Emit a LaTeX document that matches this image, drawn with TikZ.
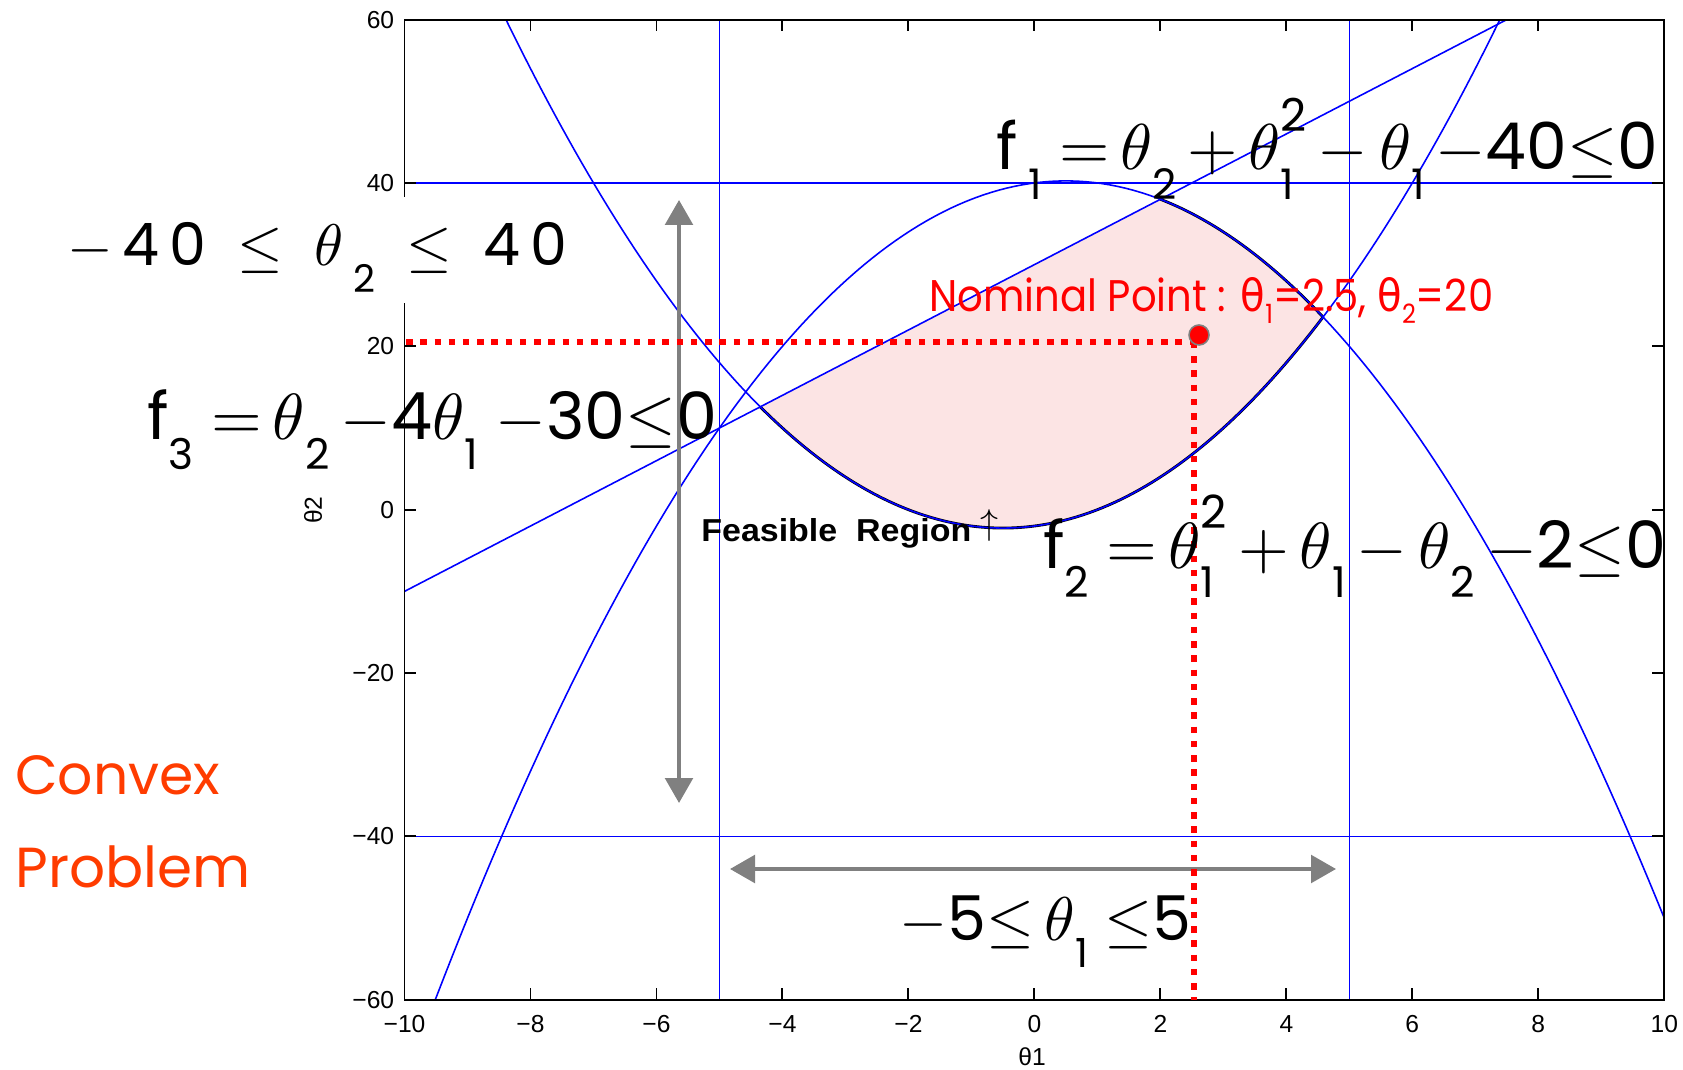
\documentclass[tikz,border=0pt]{standalone}
\usepackage{fontspec}
\usepackage{graphicx}
\usetikzlibrary{arrows.meta}
\setmainfont{Poppins}
\newfontfamily\axfont{Liberation Sans}
\newfontfamily\grk{DejaVu Sans}
\definecolor{feas}{RGB}{252,228,228}
\definecolor{cvxred}{RGB}{255,60,0}
\definecolor{dimgray}{RGB}{128,128,128}
\newcommand\lo[1]{\raisebox{-0.45em}{\scalebox{0.65}{#1}}}
\newcommand\hi[1]{\raisebox{0.6em}{\scalebox{0.7}{#1}}}
\newcommand\gsub[1]{\raisebox{-0.25em}{\scalebox{0.6}{#1}}}
\begin{document}
\begin{tikzpicture}[x=0.02cm,y=-0.02cm,
  curve/.style={blue, line width=0.9pt},
  frame/.style={black, line width=1.1pt},
  tick/.style={black, line width=1.1pt},
  ticklab/.style={font=\axfont\fontsize{14}{14}\selectfont, inner sep=0pt},
  dimarrow/.style={dimgray, line width=2.3pt, {Triangle[length=0.5cm,width=0.55cm]}-{Triangle[length=0.5cm,width=0.55cm]}},
  nomline/.style={red, line width=3.9pt, dash pattern=on 0.13cm off 0.155cm},
  eq/.style={inner sep=0pt, anchor=base west},
]
\useasboundingbox (0,0) rectangle (1683,1070);
\fill[white] (0,0) rectangle (1683,1070);

\begin{scope}[shift={(20.692cm,-10.196cm)}, x=1.26cm, y=0.1634cm]
  \fill[feas] plot[domain=-4.35235:4.58258, samples=90] (\x,{\x*\x+\x-2})
     -- plot[domain=4.58258:2, samples=40] (\x,{-\x*\x+\x+40}) -- cycle;
  \draw[black, line width=1.6pt] plot[domain=-4.35235:4.58258, samples=90] (\x,{\x*\x+\x-2});
  \draw[black, line width=1.6pt] plot[domain=4.58258:2, samples=40] (\x,{-\x*\x+\x+40});
  \begin{scope}
    \clip (-10,-60) rectangle (10,60);
    \draw[curve] plot[domain=-10:10, samples=160] (\x,{-\x*\x+\x+40});
    \draw[curve] plot[domain=-9:8, samples=160] (\x,{\x*\x+\x-2});
    \draw[curve] (-10,-10) -- (7.5,60);
    \draw[curve] (-5,-60) -- (-5,60);
    \draw[curve] (5,-60) -- (5,60);
    \draw[curve] (-10,40) -- (10,40);
    \draw[curve] (-10,-40) -- (10,-40);
  \end{scope}
  \draw[frame] (-10,-60) rectangle (10,60);
  \foreach \t in {-8,-6,...,8} {
    \draw[tick] (\t,-60) -- ++(0,1.45);
    \draw[tick] (\t,60) -- ++(0,-1.45);
  }
  \foreach \s in {-40,-20,...,40} {
    \draw[tick] (-10,\s) -- ++(0.19,0);
    \draw[tick] (10,\s) -- ++(-0.19,0);
  }
  \foreach \v/\l in {-10/{−10},-8/{−8},-6/{−6},-4/{−4},-2/{−2},0/0,2/2,4/4,6/6,8/8,10/10}
    \node[ticklab, anchor=north] (xl\v) at ([yshift=-0.3cm]\v,-60) {\l};
  \foreach \v/\l in {-60/{−60},-40/{−40},-20/{−20},0/0,20/20,40/40,60/60}
    \node[ticklab, anchor=east] (yl\v) at ([xshift=-0.2cm]-10,\v) {\l};
\end{scope}

\node[ticklab] (xlab) at (1032,1057) {θ1};
\node[ticklab, rotate=90] (ylab) at (313,510) {θ2};

% white patch behind theta2 range
\fill[white] (60,197) rectangle (580,303);
\node[eq] (rng2) at (67,266) {\resizebox{10cm}{!}{$-$\,4\,0\ \ $\le$\ \ $\theta$\,\lo{2}\ \ $\le$\ \ 4\,0}};

% gray range arrows
\coordinate (vtop) at (679,200);
\coordinate (vbot) at (679,803);
\draw[dimarrow] (vtop) -- (vbot);
\coordinate (hl) at (730,869);
\coordinate (hr) at (1336,869);
\draw[dimarrow] (hl) -- (hr);

% nominal point lines
\coordinate (nom) at (1194,342);
\coordinate (nomx) at (1194,1000);
\coordinate (nomy) at (406,342);
\draw[nomline] (nomy) -- (nom);
\draw[nomline] (nom) -- (nomx);
\node[circle, fill=red, draw=gray, line width=0.9pt, minimum size=0.4cm, inner sep=0pt] (dot) at (1199,335) {};

% equations
\node[eq] (f1) at (996,170) {\resizebox{13.24cm}{!}{f\,\lo{1}\ $=$\,$\theta$\lo{2}\,$+$\,$\theta$\rlap{\lo{1}}\hi{2}\,$-$\,$\theta$\lo{1}\,$-$40$\le$0}};
\node[eq] (f3) at (147,440) {\resizebox{11.4cm}{!}{f\lo{3}\ $=$\,$\theta$\lo{2}\,$-$4$\theta$\lo{1}\ $-$30$\le$0}};
\node[eq] (f2) at (1043,568) {\resizebox{12.46cm}{!}{f\lo{2}\ $=$\,$\theta$\rlap{\lo{1}}\hi{2}\,$+$\,$\theta$\lo{1}\,$-$\,$\theta$\lo{2}\,$-$2$\le$0}};
\node[eq] (rng1) at (899,940) {\resizebox{5.84cm}{!}{$-$5$\le$\,$\theta$\lo{1}\ $\le$5}};

\node[eq, text=red] (nomlab) at (929,312) {\resizebox{11.28cm}{0.68cm}{Nominal Point : {\grk θ}\gsub{1}=2.5, {\grk θ}\gsub{2}=20}};
\node[eq] (feaslab) at (701,542) {\resizebox{5.4cm}{0.46cm}{\axfont\bfseries Feasible\ \ Region}};
\node[inner sep=0pt] (feasarrow) at (989,526) {\resizebox*{!}{0.64cm}{$\uparrow$}};

\node[eq, text=cvxred] (cvx) at (15,794) {\resizebox{4.1cm}{!}{Convex}};
\node[eq, text=cvxred] (prob) at (15,887) {\resizebox{4.7cm}{!}{Problem}};
\end{tikzpicture}
\end{document}
